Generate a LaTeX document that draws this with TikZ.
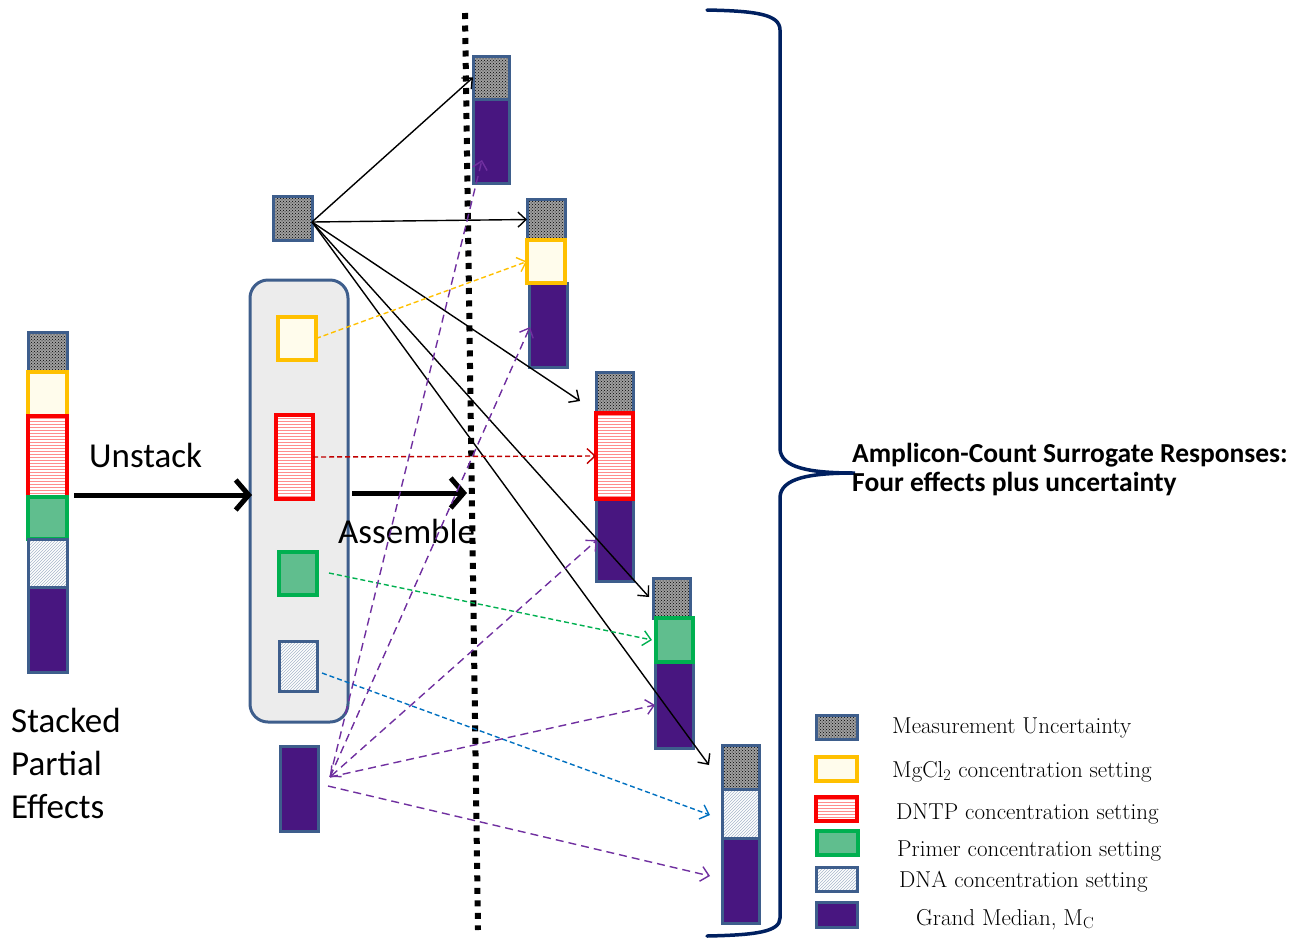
\documentclass[tikz,border=0pt]{standalone}
\usepackage{fontspec}
\newfontfamily\calibri{Carlito}
\usetikzlibrary{arrows.meta,patterns}
\definecolor{bblue}{RGB}{62,94,140}
\definecolor{ylw}{RGB}{255,192,0}
\definecolor{cream}{RGB}{255,252,236}
\definecolor{redb}{RGB}{250,0,0}
\definecolor{grn}{RGB}{0,176,80}
\definecolor{grnfill}{RGB}{96,190,142}
\definecolor{purp}{RGB}{72,22,128}
\definecolor{purpl}{RGB}{112,48,160}
\definecolor{dred}{RGB}{192,0,0}
\definecolor{lblue}{RGB}{0,112,192}
\definecolor{navy}{RGB}{0,32,96}
\begin{document}
\begin{tikzpicture}[x=1pt,y=-1pt,
  blk/.style={rectangle, inner sep=0pt, outer sep=0pt, line width=3pt},
  meas/.style={blk, draw=bblue, preaction={fill=gray!75}, pattern=crosshatch dots, pattern color=black},
  mg/.style={blk, draw=ylw, line width=3.5pt, fill=cream},
  dn/.style={blk, draw=redb, line width=3.5pt, preaction={fill=white}, pattern=horizontal lines, pattern color=red!45},
  pr/.style={blk, draw=grn, line width=3.5pt, fill=grnfill},
  dna/.style={blk, draw=bblue, preaction={fill=white}, pattern=north east lines, pattern color=bblue!45},
  med/.style={blk, draw=bblue, fill=purp},
  conn/.style={-{Straight Barb[length=8pt,width=15pt]}, line width=1.4pt},
  dsh/.style={conn, dash pattern=on 5pt off 3pt},
  pdsh/.style={conn, purpl, dash pattern=on 8pt off 5pt},
  bigarrow/.style={line width=5pt, -{Straight Barb[length=13pt,width=30pt,line width=5pt]}},
  bigtext/.style={font=\calibri\fontsize{35}{43}\selectfont, inner sep=0pt},
  legtext/.style={font=\fontsize{23}{26}\selectfont, inner sep=0pt, anchor=base west}
]
\useasboundingbox (0,0) rectangle (1301,938);

% dotted separator
\coordinate (dtop) at (465,13);
\coordinate (dbot) at (478,930);
\draw[line width=6pt, dash pattern=on 6pt off 6.5pt] (dtop) -- (dbot);

% left stacked column
\node[meas, minimum width=39, minimum height=40] (Lm) at (47.5,352) {};
\node[mg, minimum width=39, minimum height=44] (Ly) at (47.5,394) {};
\node[dn, minimum width=39, minimum height=81] (Lr) at (47.5,456.5) {};
\node[pr, minimum width=39, minimum height=42] (Lg) at (47.5,518) {};
\node[dna, minimum width=39, minimum height=48] (Ld) at (47.5,563) {};
\node[med, minimum width=39, minimum height=85] (Lmed) at (47.5,629.5) {};

% middle unstacked
\node[blk, draw=bblue, fill=gray!15, rounded corners=18pt, minimum width=98, minimum height=442] (Mbox) at (299,501) {};
\node[meas, minimum width=39, minimum height=44] (Mm) at (292.5,218) {};
\node[mg, minimum width=38, minimum height=43] (My) at (297,338.5) {};
\node[dn, minimum width=37, minimum height=84] (Mr) at (294.5,457) {};
\node[pr, minimum width=38, minimum height=43] (Mg) at (298,573.5) {};
\node[dna, minimum width=38, minimum height=50] (Md) at (298,666) {};
\node[med, minimum width=38, minimum height=85] (Mmed) at (299,788.5) {};

% column 1
\node[meas, minimum width=36, minimum height=43] (C1m) at (491,77.5) {};
\node[med, minimum width=36, minimum height=84] (C1med) at (491,141) {};
% column 2
\node[meas, minimum width=38, minimum height=41] (C2m) at (546,219.5) {};
\node[med, minimum width=38, minimum height=84] (C2med) at (548,325) {};
\node[mg, minimum width=38, minimum height=43] (C2y) at (546,261.5) {};
% column 3
\node[meas, minimum width=37, minimum height=41] (C3m) at (614.5,392.5) {};
\node[med, minimum width=37, minimum height=82] (C3med) at (614.5,540) {};
\node[dn, minimum width=37, minimum height=86] (C3r) at (614.5,456) {};
% column 4
\node[meas, minimum width=37, minimum height=40] (C4m) at (671.5,598) {};
\node[med, minimum width=38, minimum height=86] (C4med) at (674,705) {};
\node[pr, minimum width=37, minimum height=44] (C4g) at (674.5,640) {};
% column 5
\node[meas, minimum width=37, minimum height=44] (C5m) at (740.5,767) {};
\node[dna, minimum width=37, minimum height=49] (C5d) at (740.5,813.5) {};
\node[med, minimum width=37, minimum height=85] (C5med) at (740.5,880.5) {};

% big arrows and labels
\coordinate (u1) at (74,495);
\coordinate (u2) at (252,495);
\draw[bigarrow] (u1) -- (u2);
\node[bigtext, anchor=base west] (unstack) at (89,467) {Unstack};
\coordinate (a1) at (352,493);
\coordinate (a2) at (467,493);
\draw[bigarrow] (a1) -- (a2);
\node[bigtext, anchor=base west] (assemble) at (338,543) {Assemble};
\node[bigtext, anchor=north west, align=left] (stacked) at (11,708) {Stacked\\Partial\\Effects};

% black connectors from measurement uncertainty
\coordinate (ms) at (312,222);
\coordinate (e3) at (580,401);
\coordinate (e4) at (649,597);
\coordinate (e5) at (709,765);
\draw[conn] (ms) -- (C1m.west);
\draw[conn] (ms) -- (C2m.west);
\draw[conn] (ms) -- (e3);
\draw[conn] (ms) -- (e4);
\draw[conn] (ms) -- (e5);

% coloured dashed connectors
\draw[dsh, ylw] (My.east) -- (C2y.west);
\draw[dsh, dred] (Mr.east) -- (C3r.west);
\coordinate (gs) at (329,573);
\coordinate (ge) at (652,640);
\draw[dsh, grn] (gs) -- (ge);
\coordinate (bs) at (322,673);
\coordinate (be) at (710,815);
\draw[dsh, lblue] (bs) -- (be);

% purple dashed connectors from grand median
\coordinate (ps) at (330,777);
\coordinate (ps2) at (328,786);
\coordinate (p1) at (482,160);
\coordinate (p2) at (530,327);
\coordinate (p3) at (597,540);
\coordinate (p4) at (655,705);
\coordinate (p5) at (710,876);
\draw[pdsh] (ps) -- (p1);
\draw[pdsh] (ps) -- (p2);
\draw[pdsh, {Straight Barb[length=8pt,width=15pt]}-{Straight Barb[length=8pt,width=15pt]}] (ps) -- (p3);
\draw[pdsh] (ps) -- (p4);
\draw[pdsh] (ps2) -- (p5);

% brace
\draw[navy, line width=3.5pt, line cap=round]
  (707,10) .. controls (755,11) and (780,14) .. (780,30)
  -- (780,448) .. controls (780,468) and (810,473) .. (855,473)
  .. controls (810,473) and (780,478) .. (780,498)
  -- (780,918) .. controls (780,932) and (755,935) .. (707,936);
\node[font=\calibri\bfseries\fontsize{27.5}{29}\selectfont, anchor=base west, align=left, inner sep=0pt] (resp) at (852,491)
  {Amplicon-Count Surrogate Responses:\\Four effects plus uncertainty};

% legend
\node[meas, minimum width=41, minimum height=24] (g1) at (836.5,727) {};
\node[mg, minimum width=41, minimum height=24] (g2) at (836.5,769) {};
\node[dn, minimum width=41, minimum height=24] (g3) at (836.5,809) {};
\node[pr, minimum width=41, minimum height=24] (g4) at (837.5,843) {};
\node[dna, minimum width=41, minimum height=24] (g5) at (836.5,879) {};
\node[med, minimum width=41, minimum height=25] (g6) at (836.5,914.5) {};
\node[legtext] (t1) at (892,733) {Measurement Uncertainty};
\node[legtext] (t2) at (892,777) {MgCl\textsubscript{2} concentration setting};
\node[legtext] (t3) at (896,819) {DNTP concentration setting};
\node[legtext] (t4) at (897,856) {Primer concentration setting};
\node[legtext] (t5) at (899,887) {DNA concentration setting};
\node[legtext] (t6) at (916,925) {Grand Median, M\textsubscript{C}};
\end{tikzpicture}
\end{document}
